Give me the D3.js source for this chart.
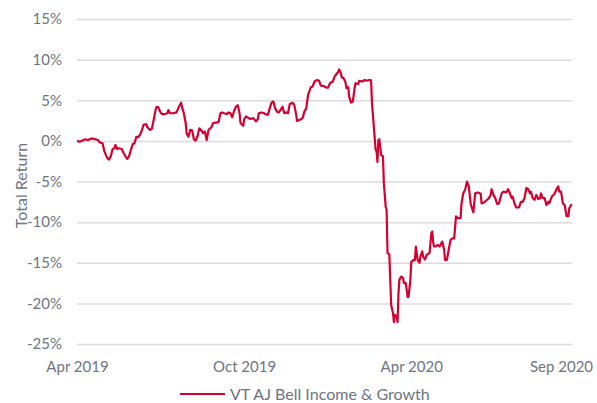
<!DOCTYPE html>
<html>
<head>
<meta charset="utf-8">
<script src="https://cdn.jsdelivr.net/npm/d3@7"></script>
<style>
  body { margin: 0; background: #fff; }
  text { font-family: Lato, "Open Sans", sans-serif; }
</style>
</head>
<body>
<div id="chart"></div>
<script>
// days since 1 Apr 2019
const startDate = new Date(2019, 3, 1);
const days = [
  0, 3, 9, 12, 16, 20, 23, 25, 28, 30, 33, 35, 37, 39, 41, 42, 44, 46, 49, 51,
  53, 55, 57, 59, 61, 63, 65, 67, 69, 71, 73, 76, 77, 80, 82, 84, 86, 87, 89, 91,
  93, 96, 99, 100, 102, 105, 109, 112, 114, 115, 117, 119, 120, 122, 124, 126, 128, 130, 132, 134,
  137, 138, 140, 142, 144, 147, 149, 152, 155, 157, 159, 161, 164, 166, 168, 170, 172, 174, 176, 178,
  179, 182, 183, 185, 188, 190, 193, 196, 198, 199, 202, 205, 206, 209, 211, 213, 215, 217, 219, 221,
  224, 225, 227, 229, 231, 233, 236, 238, 240, 241, 244, 247, 249, 251, 253, 256, 258, 260, 263, 265,
  267, 270, 273, 275, 277, 280, 282, 284, 286, 287, 289, 290, 292, 294, 295, 297, 298, 300, 302, 304,
  305, 308, 309, 312, 315, 317, 320, 322, 323, 325, 327, 328, 329, 330, 331, 333, 335, 336, 338, 339,
  340, 342, 344, 346, 347, 348, 350, 351, 352, 353, 355, 357, 358, 360, 362, 363, 365, 366, 368, 370,
  371, 373, 375, 376, 378, 379, 381, 383, 386, 388, 389, 390, 391, 393, 395, 397, 400, 402, 403, 405,
  407, 409, 411, 413, 415, 417, 420, 421, 423, 425, 427, 429, 431, 432, 434, 436, 439, 442, 443, 446,
  449, 451, 453, 454, 456, 458, 460, 462, 465, 467, 470, 472, 474, 476, 477, 479, 481, 484, 486, 488,
  490, 492, 494, 496, 497, 499, 501, 503, 505, 507, 508, 510, 512, 514, 516, 517, 520, 523, 525, 527,
  528, 530, 532, 534, 536, 538, 539, 541, 542
];
const totalReturn = [
  0.0, -0.1, 0.2, 0.1, 0.3, 0.2, 0.1, -0.2, -0.3, -1.3, -2.1, -2.3, -1.9, -1.0, -0.9, -0.5, -1.0, -0.9, -1.0, -1.5,
  -1.9, -2.2, -1.9, -1.1, -0.4, -0.3, 0.5, 0.45, 0.75, 1.3, 2.0, 2.05, 1.7, 1.35, 1.5, 2.6, 3.8, 4.15, 4.15, 3.6,
  3.3, 3.3, 3.4, 3.8, 3.4, 3.4, 3.5, 4.3, 4.7, 4.15, 3.4, 2.2, 0.95, 0.5, 1.35, 1.3, 0.2, 0.05, 0.6, 1.55,
  1.15, 0.95, 1.15, 0.1, 1.35, 1.65, 2.2, 2.25, 2.3, 3.4, 3.5, 3.4, 3.3, 3.5, 3.4, 2.9, 3.7, 4.2, 4.4, 3.4,
  2.2, 1.85, 2.65, 3.0, 2.8, 2.7, 2.8, 2.4, 2.65, 3.4, 3.5, 3.4, 3.3, 3.2, 4.0, 4.7, 4.85, 4.0, 3.6, 3.5,
  4.0, 4.2, 3.4, 3.5, 3.4, 4.55, 4.7, 4.4, 3.2, 2.45, 2.6, 2.8, 3.6, 4.0, 5.65, 6.6, 6.7, 7.3, 7.5, 7.4,
  6.8, 6.75, 6.55, 6.55, 7.1, 7.3, 7.9, 8.2, 8.5, 8.8, 8.3, 7.8, 7.7, 7.2, 6.5, 6.6, 5.45, 4.7, 4.85, 6.5,
  7.1, 7.0, 7.4, 7.3, 7.5, 7.4, 7.5, 7.45, 4.65, 1.75, -1.1, -1.3, -2.6, 0.1, 0.2, -1.7, -1.9, -5.2, -8.1, -8.5,
  -13.8, -14.0, -20.2, -21.2, -22.3, -21.4, -21.6, -22.3, -18.8, -17.1, -16.7, -16.9, -17.5, -17.5, -19.2, -19.2, -17.1, -14.9, -14.7, -14.65,
  -13.0, -14.65, -15.0, -14.25, -13.6, -14.25, -14.6, -14.0, -13.8, -11.35, -11.15, -12.5, -13.0, -13.0, -12.8, -13.0, -12.4, -13.4, -14.65, -14.65,
  -13.4, -12.2, -12.0, -12.0, -9.3, -9.5, -9.5, -7.7, -6.45, -6.0, -5.0, -5.6, -7.7, -8.1, -8.8, -6.45, -6.35, -6.5, -7.7, -7.55,
  -7.25, -7.05, -6.65, -5.95, -6.65, -7.05, -7.75, -7.7, -6.45, -6.25, -6.35, -5.95, -6.45, -7.05, -6.85, -7.7, -8.2, -8.2, -7.5, -7.5,
  -7.05, -5.8, -5.95, -6.45, -6.25, -7.05, -7.25, -6.65, -7.15, -7.05, -6.45, -7.05, -7.05, -7.9, -7.5, -7.7, -6.85, -6.5, -5.95, -5.6,
  -6.25, -6.25, -7.7, -7.9, -9.25, -9.25, -8.3, -7.9, -7.8
];
const yTicks = [-25, -20, -15, -10, -5, 0, 5, 10, 15];
const xTickDates = ["2019-04-01", "2019-10-01", "2020-04-01", "2020-09-12"];
const seriesName = "VT AJ Bell Income & Growth";

const width = 597;
const height = 403;
const margin = { top: 19, right: 25, bottom: 59, left: 77 };
const boundedwidth = width - margin.left - margin.right;
const boundedheight = height - margin.top - margin.bottom;

const lineColor = "#d50032";
const textColor = "#6e7480";

const data = days.map((d, i) => ({ date: d3.timeDay.offset(startDate, d), value: totalReturn[i] }));

const xScale = d3.scaleTime()
    .domain([startDate, d3.timeDay.offset(startDate, d3.max(days))])
    .range([0, boundedwidth]);
const yScale = d3.scaleLinear().domain([-25, 15]).range([boundedheight, 0]);

const svg = d3.select("#chart").append("svg")
    .attr("width", width)
    .attr("height", height);

const g = svg.append("g")
    .attr("transform", `translate(${margin.left},${margin.top})`);

// gridlines + y labels
const yAxis = g.append("g")
    .call(d3.axisLeft(yScale).tickValues(yTicks).tickSize(-boundedwidth).tickPadding(15).tickFormat(d => d + "%"));
yAxis.select(".domain").remove();
yAxis.selectAll(".tick line").attr("stroke", "#dcdcdc").attr("stroke-width", 1.5);
yAxis.selectAll(".tick text")
    .attr("fill", textColor)
    .attr("font-size", 15)
    .attr("font-family", "Lato, sans-serif");

// x labels
const parse = d3.timeParse("%Y-%m-%d");
const xAxis = g.append("g")
    .attr("transform", `translate(0,${boundedheight})`)
    .call(d3.axisBottom(xScale).tickValues(xTickDates.map(parse)).tickSize(0).tickPadding(17).tickFormat(d3.timeFormat("%b %Y")));
xAxis.select(".domain").remove();
xAxis.selectAll(".tick text")
    .attr("fill", textColor)
    .attr("font-size", 15)
    .attr("font-family", "Lato, sans-serif");

// y title
svg.append("text")
    .attr("transform", `translate(27,${margin.top + boundedheight / 2 + 4}) rotate(-90)`)
    .attr("text-anchor", "middle")
    .attr("fill", textColor)
    .attr("font-size", 16)
    .text("Total Return");

const line = d3.line()
    .x(d => xScale(d.date))
    .y(d => yScale(d.value));

g.append("path").datum(data)
    .attr("fill", "none")
    .attr("stroke", lineColor)
    .attr("stroke-width", 2.2)
    .attr("stroke-linejoin", "round")
    .attr("d", line);

// legend
const legend = svg.append("g").attr("transform", "translate(180,394)");
legend.append("line")
    .attr("x1", 0).attr("x2", 45)
    .attr("stroke", lineColor)
    .attr("stroke-width", 2);
legend.append("text")
    .attr("x", 50)
    .attr("dy", "0.35em")
    .attr("fill", textColor)
    .attr("font-size", 16)
    .text(seriesName);
</script>
</body>
</html>
